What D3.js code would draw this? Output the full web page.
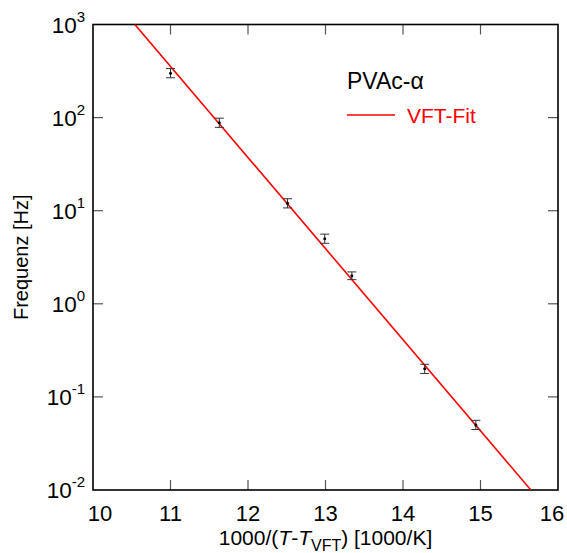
<!DOCTYPE html>
<html>
<head>
<meta charset="utf-8">
<script src="https://cdn.jsdelivr.net/npm/d3@7"></script>
<style>
  body { margin: 0; background: #fff; }
  text { font-family: "Liberation Sans", Arial, sans-serif; }
</style>
</head>
<body>
<div id="chart"></div>
<script>
// measured points (1000/(T-Tvft), frequency in Hz)
const invT = [11.0, 11.63, 12.51, 12.99, 13.34, 14.28, 14.94];
const freq = [300, 88, 12, 5.0, 2.0, 0.2, 0.05];
const relErr = [0.12, 0.12, 0.12, 0.12, 0.1, 0.12, 0.12];

// VFT fit line end points
const fitX = [10.54, 15.65];
const fitY = [1000, 0.01];

const xTicks = [10, 11, 12, 13, 14, 15, 16];
const yTicks = [1e-2, 1e-1, 1e0, 1e1, 1e2, 1e3];

// dimensions
const W = 567, H = 553;
const margin = {top: 24.5, right: 9, bottom: 63, left: 93};
const width = W - margin.left - margin.right,
      height = H - margin.top - margin.bottom;

const svg = d3.select("#chart").append("svg")
    .attr("width", W).attr("height", H)
  .append("g")
    .attr("transform", `translate(${margin.left},${margin.top})`);

const x = d3.scaleLinear().domain([10, 16]).range([0, width]);
const y = d3.scaleLog().domain([0.01, 1000]).range([height, 0]);

// clip for the fit line
svg.append("clipPath").attr("id", "clip")
  .append("rect").attr("width", width).attr("height", height);

// ticks on all four sides, pointing inwards
const tk = 10;
const tickG = svg.append("g").attr("stroke", "#555").attr("stroke-width", 1.2);
xTicks.slice(1, -1).forEach(t => {
  tickG.append("line").attr("x1", x(t)).attr("x2", x(t)).attr("y1", height).attr("y2", height - tk);
  tickG.append("line").attr("x1", x(t)).attr("x2", x(t)).attr("y1", 0).attr("y2", tk);
});
yTicks.slice(1, -1).forEach(t => {
  tickG.append("line").attr("y1", y(t)).attr("y2", y(t)).attr("x1", 0).attr("x2", tk);
  tickG.append("line").attr("y1", y(t)).attr("y2", y(t)).attr("x1", width).attr("x2", width - tk);
});

// frame
svg.append("rect")
  .attr("width", width).attr("height", height)
  .attr("fill", "none").attr("stroke", "#000").attr("stroke-width", 1.6);

// x tick labels (end labels nudged inwards like the original)
svg.append("g").selectAll("text")
  .data(xTicks).join("text")
    .attr("x", (d, i) => x(d) + (i === 0 ? 7 : i === xTicks.length - 1 ? -6 : 0))
    .attr("y", height + 31)
    .attr("text-anchor", "middle")
    .style("font-size", "22px")
    .text(d => d);

// y tick labels 10^n
const yl = svg.append("g").selectAll("text")
  .data(yTicks).join("text")
    .attr("x", -8).attr("y", d => y(d) + 8)
    .attr("text-anchor", "end")
    .style("font-size", "22.5px");
yl.append("tspan").text("10");
yl.append("tspan").attr("dy", -11).style("font-size", "15px")
  .text(d => Math.round(Math.log10(d)));

// axis titles
const xt = svg.append("text")
  .attr("x", width / 2).attr("y", height + 55)
  .attr("text-anchor", "middle")
  .style("font-size", "21px");
xt.append("tspan").text("1000/(");
xt.append("tspan").style("font-style", "italic").text("T");
xt.append("tspan").text("-");
xt.append("tspan").style("font-style", "italic").text("T");
xt.append("tspan").attr("dy", 6).style("font-size", "16px").text("VFT");
xt.append("tspan").attr("dy", -6).text(") [1000/K]");

svg.append("text")
  .attr("transform", `translate(${-65},${height / 2}) rotate(-90)`)
  .attr("text-anchor", "middle")
  .style("font-size", "20px")
  .text("Frequenz [Hz]");

// fit line
svg.append("path")
  .datum(fitX.map((d, i) => [d, fitY[i]]))
  .attr("clip-path", "url(#clip)")
  .attr("fill", "none").attr("stroke", "#f00").attr("stroke-width", 1.6)
  .attr("d", d3.line().x(d => x(d[0])).y(d => y(d[1])));

// error bars + points
const pts = svg.append("g").selectAll("g")
  .data(invT.map((d, i) => ({x: d, y: freq[i], e: relErr[i]})))
  .join("g")
    .attr("stroke", "#333").attr("stroke-width", 1);
pts.append("line")
  .attr("x1", d => x(d.x)).attr("x2", d => x(d.x))
  .attr("y1", d => y(d.y * (1 + d.e))).attr("y2", d => y(d.y / (1 + d.e)));
pts.append("line")
  .attr("x1", d => x(d.x) - 4.5).attr("x2", d => x(d.x) + 4.5)
  .attr("y1", d => y(d.y * (1 + d.e))).attr("y2", d => y(d.y * (1 + d.e)));
pts.append("line")
  .attr("x1", d => x(d.x) - 4.5).attr("x2", d => x(d.x) + 4.5)
  .attr("y1", d => y(d.y / (1 + d.e))).attr("y2", d => y(d.y / (1 + d.e)));
pts.append("circle")
  .attr("cx", d => x(d.x)).attr("cy", d => y(d.y)).attr("r", 1.5)
  .attr("fill", "#000").attr("stroke", "none");

// legend
svg.append("text").attr("x", 254).attr("y", 64)
  .style("font-size", "23px").text("PVAc-α");
svg.append("line")
  .attr("x1", 254).attr("x2", 302).attr("y1", 90.5).attr("y2", 90.5)
  .attr("stroke", "#f00").attr("stroke-width", 1.6);
svg.append("text").attr("x", 314).attr("y", 98)
  .attr("fill", "#f00").style("font-size", "21px").text("VFT-Fit");
</script>
</body>
</html>
